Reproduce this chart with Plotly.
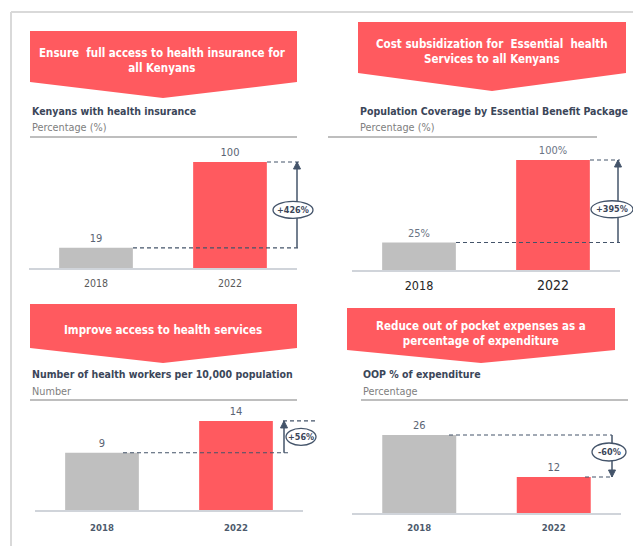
import plotly.graph_objects as go

# ---------------- data ----------------
years = ["2018", "2022"]
insured_pct = [19, 100]
ebp_coverage_pct = [25, 100]
health_workers = [9, 14]
oop_pct = [26, 12]
change_labels = ["+426%", "+395%", "+56%", "-60%"]
banner_texts = [
    "Ensure  full access to health insurance for<br>all Kenyans",
    "Cost subsidization for  Essential  health<br>Services to all Kenyans",
    "Improve access to health services",
    "Reduce out of pocket expenses as a<br>percentage of expenditure",
]
titles = [
    "Kenyans with health insurance",
    "Population Coverage by Essential Benefit Package",
    "Number of health workers per 10,000 population",
    "OOP % of expenditure",
]
subtitles = ["Percentage (%)", "Percentage (%)", "Number", "Percentage"]
value_suffix = ["", "%", "", ""]

series = [insured_pct, ebp_coverage_pct, health_workers, oop_pct]

# ---------------- layout helpers ----------------
W, H = 633, 546
def px(x):
    return x / W
def py(y):
    return 1 - y / H

RED = "#FF5A5F"
GRAY = "#BFBFBF"
SLATE = "#44546A"
NARROW = "DejaVu Sans Condensed, Liberation Sans Narrow, Arial Narrow, sans-serif"

# per-panel geometry (pixels)
geo = [
    dict(xd=(29, 297), base=268, top=140, scale=1.06, standoff=5,
         banner=(30, 297, 31, 82, 163, 98), btext=(163, 60),
         title=(30, 111, 127), sep=(30, 297, 137),
         low=(133, 300), high=(267, 300), arrow_x=297,
         ell=(293, 40, 17, -5)),
    dict(xd=(352, 620), base=270, top=140, scale=1.10, standoff=3,
         banner=(358, 626, 22, 73, 492, 91), btext=(492, 51),
         title=(358, 111, 127), sep=(328, 597, 137),
         low=(456, 620), high=(590, 620), arrow_x=618,
         ell=(612, 42, 17, -8)),
    dict(xd=(35, 303), base=510, top=405, scale=6.36, standoff=8,
         banner=(30, 297, 304, 348, 163, 363), btext=(163, 330),
         title=(30, 374, 391), sep=(30, 297, 400),
         low=(123, 290), high=(283, 315), arrow_x=284,
         ell=(301, 30, 17, 0)),
    dict(xd=(352, 621), base=513, top=405, scale=3.0, standoff=5,
         banner=(347, 615, 308, 350, 481, 363), btext=(481, 333),
         title=(361, 374, 391), sep=(361, 628, 400),
         low=(585, 612), high=(449, 612), arrow_x=612,
         ell=(609, 34, 18, 4)),
]

fig = go.Figure()
shapes = []
annotations = []

# frame lines
shapes.append(dict(type="line", xref="paper", yref="paper", x0=px(11), x1=px(11),
                   y0=py(12), y1=py(546), line=dict(color="#D9D9D9", width=2)))
shapes.append(dict(type="line", xref="paper", yref="paper", x0=px(11), x1=px(633),
                   y0=py(12), y1=py(12), line=dict(color="#D9D9D9", width=2)))

for i, (g, vals) in enumerate(zip(geo, series)):
    n = "" if i == 0 else str(i + 1)
    xa, ya = "x" + n, "y" + n
    fig.update_layout(**{
        "xaxis" + n: dict(domain=[px(g["xd"][0]), px(g["xd"][1])], anchor=ya,
                          type="category", range=[-0.5, 1.5], showline=True,
                          linecolor="#D0D4DA", linewidth=1.5, showgrid=False,
                          zeroline=False, ticks="", fixedrange=True,
                          ticklabelstandoff=g["standoff"]),
        "yaxis" + n: dict(domain=[py(g["base"]), py(g["top"])], anchor=xa,
                          range=[0, (g["base"] - g["top"]) / g["scale"]],
                          visible=False, fixedrange=True),
    })
    if i == 0:
        fig.update_layout(**{"xaxis" + n: dict(tickfont=dict(size=10.5, color="#595959", family=NARROW))})
    elif i == 1:
        fig.update_layout(**{"xaxis" + n: dict(
            tickfont=dict(size=12.5, color="#262626", family=NARROW),
            tickvals=years,
            ticktext=[years[0], '<span style="font-size:14px">' + years[1] + "</span>"])})
    else:
        fig.update_layout(**{"xaxis" + n: dict(
            tickfont=dict(size=9.5, color="#4D5A6C", family=NARROW),
            tickvals=years, ticktext=["<b>" + y + "</b>" for y in years])})

    fig.add_trace(go.Bar(
        x=years, y=vals, xaxis=xa, yaxis=ya, width=0.55,
        marker=dict(color=[GRAY, RED], line=dict(width=0)),
        text=[f"{v}{value_suffix[i]}" for v in vals], textposition="outside",
        textfont=dict(size=11, color="#6B7585" if i == 1 else "#5A6474", family=NARROW),
        cliponaxis=False, showlegend=False, hoverinfo="skip"))

    # banner
    bx0, bx1, bt, bs, tx, ty = g["banner"]
    path = (f"M {px(bx0)},{py(bt)} L {px(bx1)},{py(bt)} L {px(bx1)},{py(bs)} "
            f"L {px(tx)},{py(ty)} L {px(bx0)},{py(bs)} Z")
    shapes.append(dict(type="path", xref="paper", yref="paper", path=path,
                       fillcolor=RED, line=dict(width=0), layer="below"))
    annotations.append(dict(xref="paper", yref="paper", x=px(g["btext"][0]), y=py(g["btext"][1]),
                            text="<b>" + banner_texts[i] + "</b>", showarrow=False,
                            xanchor="center", yanchor="middle", align="center",
                            font=dict(size=11.5, color="white", family=NARROW)))
    # titles
    tx0, ty1, ty2 = g["title"]
    annotations.append(dict(xref="paper", yref="paper", x=px(tx0), y=py(ty1),
                            text="<b>" + titles[i] + "</b>", showarrow=False,
                            xanchor="left", yanchor="middle",
                            font=dict(size=10.5, color="#3B4659", family=NARROW)))
    annotations.append(dict(xref="paper", yref="paper", x=px(tx0), y=py(ty2),
                            text=subtitles[i], showarrow=False,
                            xanchor="left", yanchor="middle",
                            font=dict(size=10.8, color="#808080", family=NARROW)))
    sx0, sx1, sy = g["sep"]
    shapes.append(dict(type="line", xref="paper", yref="paper", x0=px(sx0), x1=px(sx1),
                       y0=py(sy), y1=py(sy), line=dict(color="#7F7F7F", width=1.2)))

    # dashed reference lines
    v_old, v_new = vals[0], vals[1]
    lo = g["low"]; hi = g["high"]
    dash = dict(color=SLATE, width=1.2, dash="4px,3px")
    shapes.append(dict(type="line", xref="paper", yref=ya, x0=px(lo[0]), x1=px(lo[1]),
                       y0=min(vals), y1=min(vals), line=dash))
    shapes.append(dict(type="line", xref="paper", yref=ya, x0=px(hi[0]), x1=px(hi[1]),
                       y0=max(vals), y1=max(vals), line=dash))
    ax = px(g["arrow_x"])
    shapes.append(dict(type="line", xref="paper", yref=ya, x0=ax, x1=ax,
                       y0=v_old, y1=v_new, line=dict(color=SLATE, width=1.5)))
    if v_new > v_old:
        head = "M 0,0 L -3.5,-7 L 3.5,-7 Z"
    else:
        head = "M 0,0 L -3.5,7 L 3.5,7 Z"
    shapes.append(dict(type="path", xref="paper", yref=ya, xsizemode="pixel", ysizemode="pixel",
                       xanchor=ax, yanchor=v_new, path=head, fillcolor=SLATE,
                       line=dict(color=SLATE, width=1)))
    ecx, ew, eh, edy = g["ell"]
    mid = (v_old + v_new) / 2
    shapes.append(dict(type="circle", xref="paper", yref=ya, xsizemode="pixel", ysizemode="pixel",
                       xanchor=px(ecx), yanchor=mid, x0=-ew / 2, x1=ew / 2,
                       y0=-eh / 2 + edy, y1=eh / 2 + edy,
                       fillcolor="white", line=dict(color=SLATE, width=1.3)))
    annotations.append(dict(xref="paper", yref=ya, x=px(ecx), y=mid, yshift=edy,
                            text="<b>" + change_labels[i] + "</b>", showarrow=False,
                            xanchor="center", yanchor="middle",
                            font=dict(size=9, color="#3B4659", family=NARROW)))

fig.update_layout(
    width=W, height=H, margin=dict(l=0, r=0, t=0, b=0),
    paper_bgcolor="white", plot_bgcolor="rgba(0,0,0,0)",
    shapes=shapes, annotations=annotations, showlegend=False,
)

fig.write_html("out.html", config={"displayModeBar": False},
               post_script="document.body.style.margin='0';document.body.style.overflow='hidden';")
